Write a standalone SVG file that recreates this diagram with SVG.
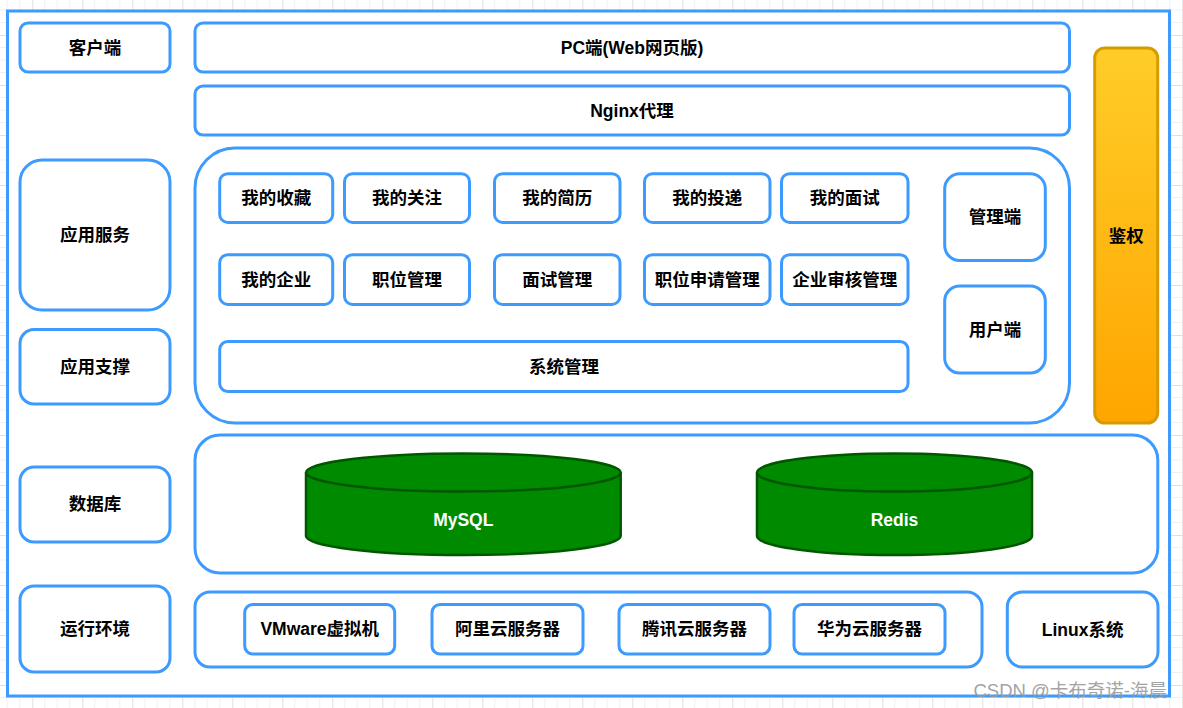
<svg xmlns="http://www.w3.org/2000/svg" width="1183" height="708" viewBox="0 0 1183 708">
<defs>
<pattern id="grid" patternUnits="userSpaceOnUse" x="32.3" y="35" width="50" height="50">
<path d="M12.5 0V50M25 0V50M37.5 0V50M0 12.5H50M0 25H50M0 37.5H50" stroke="#f0f0f0" stroke-width="1" fill="none"/>
<path d="M0.5 0V50M0 0.5H50" stroke="#e0e0e0" stroke-width="1" fill="none"/>
</pattern>
<linearGradient id="gold" x1="0" y1="0" x2="0" y2="1">
<stop offset="0" stop-color="#ffcd28"/>
<stop offset="1" stop-color="#ffa500"/>
</linearGradient>
<style>
.b{fill:#ffffff;stroke:#3d9bff;stroke-width:3}
.t{font-family:"Liberation Sans","Noto Sans CJK SC",sans-serif;font-weight:bold;font-size:17.5px;fill:#000;text-anchor:middle;dominant-baseline:central}
.w{fill:#ffffff}
.cyl{fill:#008a00;stroke:#005700;stroke-width:2.5}
</style>
</defs>
<rect width="1183" height="708" fill="#ffffff"/>
<rect width="1183" height="708" fill="url(#grid)"/>
<rect x="7.5" y="11" width="1162" height="685" fill="#ffffff" stroke="#3d9bff" stroke-width="3"/>

<g id="client"><rect class="b" x="20" y="23" width="150" height="49" rx="8"/><text class="t" x="95" y="47.5">客户端</text></g>
<g id="appsvc"><rect class="b" x="20" y="160" width="150" height="150" rx="22"/><text class="t" x="95" y="235">应用服务</text></g>
<g id="appsup"><rect class="b" x="20" y="329.5" width="150" height="74.5" rx="14"/><text class="t" x="95" y="366.5">应用支撑</text></g>
<g id="db"><rect class="b" x="20" y="467" width="150" height="75" rx="14"/><text class="t" x="95" y="504">数据库</text></g>
<g id="env"><rect class="b" x="20" y="586" width="150" height="86" rx="14"/><text class="t" x="95" y="629">运行环境</text></g>

<g id="pc"><rect class="b" x="195" y="23" width="874.5" height="49" rx="8"/><text class="t" x="632" y="47.5">PC端(Web网页版)</text></g>
<g id="nginx"><rect class="b" x="195" y="86" width="874.5" height="49" rx="8"/><text class="t" x="632" y="110.5">Nginx代理</text></g>

<g id="appbox"><rect class="b" x="195" y="148" width="874.5" height="275" rx="40"/></g>
<g id="n1"><rect class="b" x="219.7" y="173.7" width="113" height="48.7" rx="8"/><text class="t" x="276.2" y="198">我的收藏</text></g>
<g id="n2"><rect class="b" x="344.5" y="173.7" width="125" height="48.7" rx="8"/><text class="t" x="407" y="198">我的关注</text></g>
<g id="n3"><rect class="b" x="494.5" y="173.7" width="125.5" height="48.7" rx="8"/><text class="t" x="557.2" y="198">我的简历</text></g>
<g id="n4"><rect class="b" x="644.5" y="173.7" width="125.5" height="48.7" rx="8"/><text class="t" x="707.2" y="198">我的投递</text></g>
<g id="n5"><rect class="b" x="781.5" y="173.7" width="126.5" height="48.7" rx="8"/><text class="t" x="844.7" y="198">我的面试</text></g>
<g id="n6"><rect class="b" x="219.7" y="254.7" width="113" height="49.7" rx="8"/><text class="t" x="276.2" y="279.5">我的企业</text></g>
<g id="n7"><rect class="b" x="344.5" y="254.7" width="125" height="49.7" rx="8"/><text class="t" x="407" y="279.5">职位管理</text></g>
<g id="n8"><rect class="b" x="494.5" y="254.7" width="125.5" height="49.7" rx="8"/><text class="t" x="557.2" y="279.5">面试管理</text></g>
<g id="n9"><rect class="b" x="644.5" y="254.7" width="125.5" height="49.7" rx="8"/><text class="t" x="707.2" y="279.5">职位申请管理</text></g>
<g id="n10"><rect class="b" x="781.5" y="254.7" width="126.5" height="49.7" rx="8"/><text class="t" x="844.7" y="279.5">企业审核管理</text></g>
<g id="sys"><rect class="b" x="219.7" y="341.5" width="688.3" height="50" rx="8"/><text class="t" x="564" y="366.5">系统管理</text></g>
<g id="admin"><rect class="b" x="944.7" y="173.8" width="100.6" height="86.7" rx="15"/><text class="t" x="995" y="217">管理端</text></g>
<g id="user"><rect class="b" x="944.7" y="286" width="100.6" height="87" rx="15"/><text class="t" x="995" y="329.5">用户端</text></g>

<g id="auth"><rect x="1094.7" y="48" width="63" height="375" rx="10" fill="url(#gold)" stroke="#d79b00" stroke-width="3"/><text class="t" x="1126.2" y="235.5">鉴权</text></g>

<g id="dbbox"><rect class="b" x="195" y="435" width="962.8" height="138" rx="25"/></g>
<g id="mysql">
<path class="cyl" d="M306 472.5A157.35 19 0 0 1 620.7 472.5V536A157.35 19 0 0 1 306 536Z"/>
<path class="cyl" fill="none" d="M306 472.5A157.35 19 0 0 0 620.7 472.5"/>
<text class="t w" x="463.3" y="520">MySQL</text>
</g>
<g id="redis">
<path class="cyl" d="M757 472.5A137.5 19 0 0 1 1032 472.5V536A137.5 19 0 0 1 757 536Z"/>
<path class="cyl" fill="none" d="M757 472.5A137.5 19 0 0 0 1032 472.5"/>
<text class="t w" x="894.5" y="520">Redis</text>
</g>

<g id="envbox"><rect class="b" x="195" y="592" width="787" height="75" rx="15"/></g>
<g id="vm"><rect class="b" x="244.7" y="604.5" width="150" height="49.5" rx="8"/><text class="t" x="319.7" y="629">VMware虚拟机</text></g>
<g id="ali"><rect class="b" x="432" y="604.5" width="151" height="49.5" rx="8"/><text class="t" x="507.5" y="629">阿里云服务器</text></g>
<g id="tx"><rect class="b" x="619" y="604.5" width="151" height="49.5" rx="8"/><text class="t" x="694.5" y="629">腾讯云服务器</text></g>
<g id="hw"><rect class="b" x="794" y="604.5" width="151" height="49.5" rx="8"/><text class="t" x="869.5" y="629">华为云服务器</text></g>
<g id="linux"><rect class="b" x="1007.3" y="592" width="150.7" height="75" rx="15"/><text class="t" x="1082.6" y="629.5">Linux系统</text></g>

<g id="connectors"></g>

<text x="1167" y="697" font-family="'Liberation Sans','Noto Sans CJK SC',sans-serif" font-size="18.5" fill="#9a9a9a" text-anchor="end" opacity="0.9">CSDN @卡布奇诺-海晨</text>
</svg>
